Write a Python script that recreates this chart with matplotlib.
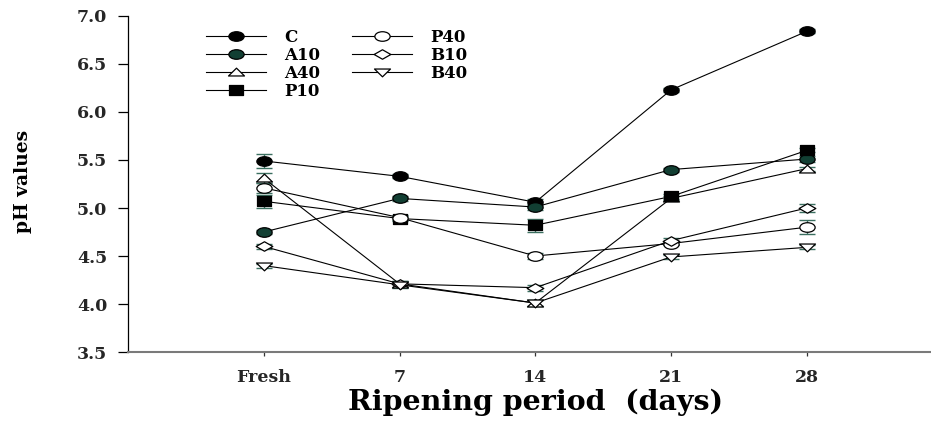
import matplotlib
matplotlib.use("Agg")
import matplotlib.pyplot as plt
import numpy as np
from matplotlib.path import Path

# ---- data ----
days = ["Fresh", "7", "14", "21", "28"]
series_names = ["C", "A10", "A40", "P10", "P40", "B10", "B40"]

ph_C = [5.49, 5.33, 5.06, 6.23, 6.84]
ph_A10 = [4.75, 5.10, 5.01, 5.40, 5.51]
ph_A40 = [5.31, 4.21, 4.01, 5.10, 5.41]
ph_P10 = [5.07, 4.89, 4.82, 5.12, 5.60]
ph_P40 = [5.21, 4.90, 4.50, 4.63, 4.80]
ph_B10 = [4.60, 4.21, 4.17, 4.66, 5.00]
ph_B40 = [4.40, 4.20, 4.01, 4.49, 4.59]

err_C = [0.07, 0.02, 0.03, 0.02, 0.02]
err_A10 = [0.02, 0.03, 0.03, 0.02, 0.03]
err_A40 = [0.05, 0.03, 0.03, 0.02, 0.02]
err_P10 = [0.07, 0.03, 0.07, 0.03, 0.02]
err_P40 = [0.05, 0.03, 0.03, 0.02, 0.07]
err_B10 = [0.03, 0.03, 0.03, 0.03, 0.04]
err_B40 = [0.02, 0.03, 0.03, 0.02, 0.02]

values = [ph_C, ph_A10, ph_A40, ph_P10, ph_P40, ph_B10, ph_B40]
errors = [err_C, err_A10, err_A40, err_P10, err_P40, err_B10, err_B40]

DARK_GREEN = "#123f33"
ERR_COLOR = "#3b6f60"


def wide_marker(verts, sx=1.6):
    """Marker path stretched horizontally (the source image is stretched)"""
    v = np.asarray(verts, dtype=float) * [sx, 1.0]
    return Path(v, closed=True)


circle = Path.unit_circle()
m_circle = Path(circle.vertices * [1.6, 1.0], circle.codes)
m_square = wide_marker([[-1, -1], [1, -1], [1, 1], [-1, 1], [-1, -1]], 1.25)
m_tri_up = wide_marker([[0, 1], [-1.15, -0.8], [1.15, -0.8], [0, 1]])
m_tri_dn = wide_marker([[0, -1], [-1.15, 0.8], [1.15, 0.8], [0, -1]])
m_diamond = wide_marker([[0, 1], [1.1, 0], [0, -1], [-1.1, 0], [0, 1]])

styles = {
    "C": (m_circle, "black", 11),
    "A10": (m_circle, DARK_GREEN, 11),
    "A40": (m_tri_up, "white", 11.5),
    "P10": (m_square, "black", 9.5),
    "P40": (m_circle, "white", 11),
    "B10": (m_diamond, "white", 12),
    "B40": (m_tri_dn, "white", 11.5),
}

plt.rcParams["font.family"] = ["DejaVu Serif"]
plt.rcParams["font.weight"] = "bold"

W, H = 931, 423
fig = plt.figure(figsize=(W / 100, H / 100), dpi=100)
ax = fig.add_axes([128 / W, 71 / H, 814.5 / W, 336 / H])

x = np.arange(len(days))

for name, y, e in zip(series_names, values, errors):
    ax.errorbar(x, y, yerr=e, fmt="none", ecolor=ERR_COLOR, elinewidth=1.0,
                capsize=5.5, capthick=1.0, zorder=2)

for name, y in zip(series_names, values):
    marker, face, size = styles[name]
    ax.plot(x, y, color="black", linewidth=0.8, marker=marker, markersize=size,
            markerfacecolor=face, markeredgecolor="black", markeredgewidth=0.9,
            label=name, zorder=3)

ax.set_xlim(-1, 5)
ax.set_ylim(3.5, 7.0)
ax.set_xticks(x)
ax.set_xticklabels(days)
ax.set_yticks(np.arange(3.5, 7.01, 0.5))
ax.set_yticklabels([f"{v:.1f}" for v in np.arange(3.5, 7.01, 0.5)])

for s in ["top", "right"]:
    ax.spines[s].set_visible(False)
ax.spines["left"].set_color("black")
ax.spines["left"].set_linewidth(0.9)
ax.spines["bottom"].set_color("#7a7a7a")
ax.spines["bottom"].set_linewidth(1.5)

ax.tick_params(axis="y", direction="out", length=7, width=0.9, pad=8,
               labelsize=12.5, labelcolor="#262626")
ax.tick_params(axis="x", direction="out", length=3, width=0.9, pad=9,
               labelsize=12.5, labelcolor="#262626", color="#333333")

ax.set_xlabel("Ripening period  (days)", fontsize=20.5, fontweight="bold",
              labelpad=2)
fig.text(23 / W, 1 - 181 / H, "pH values", rotation=90, fontsize=13.5,
         fontweight="bold", ha="center", va="center")

leg = ax.legend(ncol=2, loc="upper left", frameon=False, fontsize=12,
                bbox_to_anchor=(206 / W, 1 - 29 / H),
                bbox_transform=fig.transFigure, borderaxespad=0, borderpad=0,
                handlelength=3.6, handletextpad=1.1, columnspacing=1.9,
                labelspacing=0.05)

fig.savefig("out.png", dpi=100)
